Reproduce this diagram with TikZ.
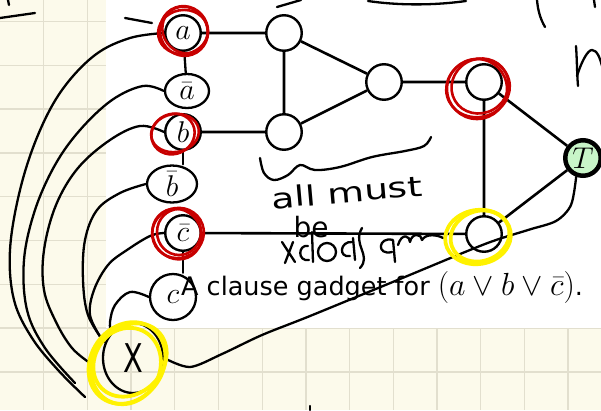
\RequirePackage{fix-cm}
\documentclass[tikz,border=0pt]{standalone}
\usepackage{fontspec}
\setmainfont{DejaVu Sans}
\usetikzlibrary{shapes.geometric}
\definecolor{paper}{RGB}{252,250,235}
\definecolor{gridline}{RGB}{226,223,206}
\definecolor{inkred}{RGB}{200,0,0}
\definecolor{hilite}{RGB}{255,242,0}
\definecolor{truegreen}{RGB}{200,245,200}
\tikzset{
  vertex/.style={circle,draw,line width=2.4pt,fill=white,minimum size=35.5pt,inner sep=0pt,font=\fontsize{30}{30}\selectfont},
  truenode/.style={vertex,fill=truegreen,line width=4.5pt},
  link/.style={line width=2.6pt},
  pen/.style={line width=2.3pt,line cap=round,line join=round},
  redpen/.style={pen,draw=inkred,line width=2.6pt},
  yellowpen/.style={line width=3.8pt,draw=hilite,line cap=round},
  literal/.style={ellipse,draw,pen,inner sep=0pt,font=\fontsize{30}{30}\selectfont},
  scrawl/.style={inner sep=0pt,font=\fontsize{28}{28}\selectfont}
}
\begin{document}
\begin{tikzpicture}[x=1pt,y=-1pt]
\useasboundingbox (0,0) rectangle (601,410);
\fill[paper] (0,0) rectangle (601,410);
\foreach \i in {1,...,13} \draw[gridline,line width=1.3pt] (43.7*\i,0) -- (43.7*\i,410);
\foreach \j in {0,...,8} \draw[gridline,line width=1.3pt] (0,21.5+43.8*\j) -- (601,21.5+43.8*\j);
\fill[white] (106,0) rectangle (601,328);

\node[vertex] (a) at (183,33) {$a$};
\node[vertex] (b) at (183,132) {$b$};
\node[vertex] (nc) at (183,233) {$\bar{c}$};
\node[vertex] (g1) at (284,33) {};
\node[vertex] (g2) at (284,132) {};
\node[vertex] (g3) at (384,82) {};
\node[vertex] (g4) at (484,82) {};
\node[vertex] (g5) at (484,234) {};
\node[truenode] (T) at (583,158) {$T$};
\draw[link] (a) -- (g1) (b) -- (g2) (g1) -- (g2) (g1) -- (g3) (g2) -- (g3)
  (g3) -- (g4) (g4) -- (g5) (g4) -- (T) (g5) -- (T) (nc) -- (g5);

\node[anchor=base west,inner sep=0pt] (caption) at (181,295)
  {\fontsize{25.5}{30}\selectfont A clause gadget for \fontsize{32}{32}\selectfont$(a\vee b\vee\bar{c})$\fontsize{25.5}{30}\selectfont.};

\node[literal,minimum width=44pt,minimum height=34pt] (na) at (187,91) {$\bar{a}$};
\node[literal,minimum width=50pt,minimum height=37pt] (nb) at (172,184) {$\bar{b}$};
\node[literal,minimum width=46pt,minimum height=46pt] (pc) at (173,297) {$c$};
\node[literal,minimum width=60pt,minimum height=70pt,font=\fontsize{36}{36}\selectfont] (base) at (133,358) {\scalebox{0.8}[1.1]{X}};
\draw[pen] (a) -- (na);
\draw[pen] (b) -- (nb.north -| b);
\draw[pen] (nc) -- (pc.north -| nc);

\coordinate (ea) at (85,397);
\coordinate (ena) at (75,383);
\coordinate (eb) at (90,363);
\coordinate (enb) at (104,342);
\coordinate (enc) at (101,338);
\coordinate (epc) at (111,333);
\draw[pen] plot[smooth,tension=0.6] coordinates {(a.west) (130,38) (95,55) (62,90) (38,135) (20,190) (10,250) (14,300) (32,338) (58,370) (ea)};
\draw[pen] plot[smooth,tension=0.6] coordinates {(na.west) (143,86) (112,100) (80,130) (55,165) (35,210) (24,260) (27,310) (45,348) (ena)};
\draw[pen] plot[smooth,tension=0.6] coordinates {(b.west) (140,126) (110,140) (78,168) (56,205) (44,250) (44,290) (56,322) (72,348) (eb)};
\draw[pen] plot[smooth,tension=0.6] coordinates {(nb.west) (120,193) (97,210) (85,240) (83,280) (88,315) (enb)};
\draw[pen] plot[smooth,tension=0.6] coordinates {(nc.west) (150,236) (127,250) (108,265) (94,290) (90,315) (enc)};
\draw[pen] plot[smooth,tension=0.6] coordinates {(pc.west) (130,292) (115,305) (110,322) (epc)};
\draw[pen] plot[smooth,tension=0.5] coordinates {(base.east) (190,367) (222,354) (262,335) (310,316) (400,279) (485,244) (528,230) (556,221) (571,205) (T.250)};

\draw[pen] plot[smooth,tension=0.6] coordinates {(260,158) (264,173) (274,180) (288,175) (300,165) (315,170) (340,167) (372,157) (405,151) (424,146) (431,137)};
\node[scrawl,rotate=5] (allmust) at (347,192) {\scalebox{1.35}[1]{all must}};
\node[scrawl] (be) at (311,227) {be};
\draw[pen] (282,242) -- (295,262) (293,242) -- (285,263);
\draw[pen] (308,246) .. controls (298,244) and (297,262) .. (309,260);
\draw[pen] (312,232) -- (313,262);
\draw[pen] (327,252) ellipse[x radius=9,y radius=9];
\draw[pen] (352,242) .. controls (340,241) and (338,258) .. (350,256) (353,238) -- (355,260);
\draw[pen] (362,228) .. controls (352,245) and (372,255) .. (360,268);
\draw[pen] (393,240) .. controls (378,236) and (376,256) .. (392,252) (393,240) -- (395,262);
\draw[pen] (398,245) .. controls (402,232) and (410,236) .. (410,242) .. controls (412,232) and (422,234) .. (422,240) .. controls (426,233) and (438,235) .. (443,238);

\draw[pen] (0,18) -- (35,13);
\draw[pen] (8,0) -- (9,5);
\draw[pen] (125,18) -- (152,23);
\draw[pen] (277,7) -- (301,0);
\draw[pen] (368,1) .. controls (395,5) and (430,6) .. (466,1);
\draw[pen] (537,0) .. controls (538,12) and (541,20) .. (545,27);
\draw[pen] (594,0) -- (595,7);
\draw[pen] (576,46) .. controls (577,60) and (577,75) .. (578,86);
\draw[pen] (577,76) .. controls (582,60) and (588,50) .. (592,50) .. controls (597,50) and (600,58) .. (602,66);
\draw[pen] (310,406) -- (310,410);

\draw[redpen] (184,31) ellipse[x radius=24,y radius=25,rotate=20];
\draw[redpen] (185,30) ellipse[x radius=22,y radius=24,rotate=35];
\draw[redpen] (183,32) ellipse[x radius=25,y radius=22,rotate=10];
\draw[redpen] (175,133) ellipse[x radius=24,y radius=19,rotate=10];
\draw[redpen] (173,134) ellipse[x radius=22,y radius=20,rotate=25];
\draw[redpen] (178,233) ellipse[x radius=26,y radius=25,rotate=20];
\draw[redpen] (177,234) ellipse[x radius=24,y radius=26,rotate=35];
\draw[redpen] (179,232) ellipse[x radius=22,y radius=23];
\draw[redpen] (478,88) ellipse[x radius=32,y radius=29,rotate=15];
\draw[redpen] (480,86) ellipse[x radius=29,y radius=27,rotate=30];
\draw[redpen] (477,89) ellipse[x radius=30,y radius=30];

\draw[yellowpen] (478,237) ellipse[x radius=33,y radius=27,rotate=10];
\draw[yellowpen] (480,236) ellipse[x radius=30,y radius=25,rotate=20];
\draw[yellowpen] (127,363) ellipse[x radius=36,y radius=43,rotate=-35];
\draw[yellowpen] (130,360) ellipse[x radius=33,y radius=40,rotate=-45];
\draw[yellowpen] (126,366) ellipse[x radius=34,y radius=39,rotate=-25];
\end{tikzpicture}
\end{document}
